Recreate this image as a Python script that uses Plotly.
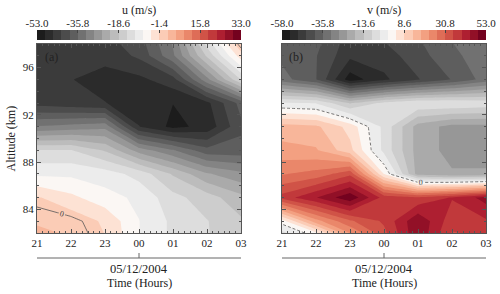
import plotly.graph_objects as go

# ---------------- data ----------------
hours = ["21", "22", "23", "00", "01", "02", "03"]
time_idx = [0, 1, 2, 3, 4, 5, 6]
altitudes = [82, 83, 85, 87, 89, 91, 93, 95, 97, 98]

# zonal wind u (m/s), rows = altitudes, columns = hours
u_rows = [
    [3.0, 1.5, -1.5, -8.2, -12.5, -15.0, -17.0],
    [1.5, 1.0, -2.0, -8.2, -12.5, -15.0, -18.0],
    [-1.0, -4.0, -7.0, -9.0, -14.0, -17.0, -21.0],
    [-9.0, -9.0, -10.0, -13.0, -19.0, -25.0, -28.0],
    [-15.0, -15.0, -19.0, -27.0, -32.0, -38.0, -38.0],
    [-32.0, -31.0, -30.0, -46.0, -50.5, -48.5, -40.0],
    [-44.0, -45.0, -46.0, -48.0, -49.5, -47.0, -38.0],
    [-45.0, -46.0, -47.5, -47.0, -44.0, -30.0, -15.0],
    [-43.0, -43.0, -45.0, -42.0, -33.0, -18.0, -3.0],
    [-43.0, -43.0, -44.0, -41.0, -32.0, -14.0, 1.5],
]

# meridional wind v (m/s)
v_rows = [
    [-6.0, 3.0, 22.0, 34.0, 48.0, 35.0, 36.0],
    [2.0, 20.0, 30.0, 36.0, 48.0, 37.0, 39.0],
    [37.0, 44.0, 52.0, 38.0, 36.0, 40.0, 46.0],
    [26.0, 28.0, 34.0, 4.0, -20.0, -22.0, -22.0],
    [19.0, 18.0, 10.0, -6.0, -20.0, -24.0, -24.0],
    [15.0, 14.0, 7.0, -6.0, -20.0, -24.0, -24.0],
    [-4.0, -5.0, -14.0, -8.0, -5.0, -5.0, -6.0],
    [-34.0, -40.0, -56.0, -50.0, -45.0, -40.0, -34.0],
    [-37.0, -40.0, -48.0, -47.0, -42.0, -37.0, -33.0],
    [-37.0, -39.0, -47.0, -45.0, -41.0, -36.0, -32.0],
]

u_start, u_end, u_step = -53.0, 33.0, 3.44
v_start, v_end, v_step = -58.0, 53.0, 4.44
u_ticks = [-53.0, -35.8, -18.6, -1.4, 15.8, 33.0]
v_ticks = [-58.0, -35.8, -13.6, 8.6, 30.8, 53.0]
alt_ticks = [84, 88, 92, 96]

# ---------------- style ----------------
palette = [
    "#1c1c1c", "#2b2b2b", "#3b3b3b", "#4c4c4c", "#5e5e5e", "#717171",
    "#848484", "#979797", "#aaaaaa", "#bcbcbc", "#cdcdcd", "#dddddd",
    "#ececec", "#fbf7f4", "#fde2d4", "#fbccb6", "#f8b69a", "#f3a081",
    "#ea876a", "#de6d57", "#d05347", "#c1393b", "#ae1f31", "#921027",
    "#74021f",
]
FONT = "Liberation Serif"
W, H = 500, 294


def contour_scale(cols):
    n = len(cols)
    m = n + 1
    sc = []
    for k, c in enumerate(cols):
        lo = 0.0 if k == 0 else (k + 0.5) / m
        hi = 1.0 if k == n - 1 else (k + 1.5) / m
        sc += [[lo, c], [hi, c]]
    return sc


def bar_scale(cols):
    n = len(cols)
    sc = []
    for k, c in enumerate(cols):
        sc += [[k / n, c], [(k + 1) / n, c]]
    return sc


def py(px):
    return 1 - px / H


def px_(x):
    return x / W


panels = [
    dict(z=u_rows, start=u_start, end=u_end, step=u_step, ticks=u_ticks,
         title="u (m/s)", label="(a)", dash="solid",
         xd=[px_(37), px_(241)], ax="", cbax="3"),
    dict(z=v_rows, start=v_start, end=v_end, step=v_step, ticks=v_ticks,
         title="v (m/s)", label="(b)", dash="3px,2px",
         xd=[px_(282), px_(486)], ax="2", cbax="4"),
]

fig = go.Figure()
plot_dom = [py(233), py(44)]
cb_dom = [py(40), py(30)]

annotations = []
shapes = []

for i, p in enumerate(panels):
    xa = "x" + p["ax"]
    ya = "y" + p["ax"]
    nb = len(palette)
    fig.add_trace(go.Contour(
        x=time_idx, y=altitudes, z=p["z"], xaxis=xa, yaxis=ya,
        autocontour=False,
        contours=dict(start=p["start"], end=p["end"], size=p["step"],
                      coloring="fill", showlines=False),
        colorscale=contour_scale(palette), showscale=False,
        line=dict(width=0, smoothing=0), hoverinfo="skip"))
    fig.add_trace(go.Contour(
        x=time_idx, y=altitudes, z=p["z"], xaxis=xa, yaxis=ya,
        autocontour=False,
        contours=dict(start=0, end=0, size=1, coloring="none",
                      showlabels=True,
                      labelfont=dict(family=FONT, size=8, color="#444")),
        line=dict(color="#555", width=0.8, smoothing=0, dash=p["dash"]),
        showscale=False, hoverinfo="skip"))
    # colour bar drawn as a heat strip of the level bands
    edges = [p["start"] + k * p["step"] for k in range(nb + 1)]
    fig.add_trace(go.Heatmap(
        x=edges, y=[0, 1], z=[list(range(nb))],
        xaxis="x" + p["cbax"], yaxis="y" + p["cbax"],
        colorscale=bar_scale(palette), zmin=-0.5, zmax=nb - 0.5,
        showscale=False, hoverinfo="skip"))

    axis_common = dict(showline=True, linecolor="#555", linewidth=1,
                       mirror="ticks", ticks="inside", tickcolor="#555",
                       ticklen=4, showgrid=False, zeroline=False,
                       automargin=False,
                       tickfont=dict(family=FONT, size=11, color="#222"))
    fig.update_layout(**{
        ("xaxis" + p["ax"]): dict(
            domain=p["xd"], range=[time_idx[0], time_idx[-1]],
            anchor=ya, tickvals=time_idx, ticktext=hours,
            minor=dict(ticks="inside", ticklen=2, dtick=1 / 6, tick0=0,
                       tickcolor="#555", showgrid=False),
            **axis_common),
        ("yaxis" + p["ax"]): dict(
            domain=plot_dom, range=[82, 98], anchor=xa,
            tickvals=alt_ticks, showticklabels=(i == 0),
            minor=dict(ticks="inside", ticklen=2, dtick=1, tick0=82,
                       tickcolor="#555", showgrid=False),
            **axis_common),
        ("xaxis" + p["cbax"]): dict(
            domain=p["xd"], range=[p["start"], p["end"]],
            anchor="y" + p["cbax"], side="top",
            tickvals=p["ticks"], ticktext=["%.1f" % t for t in p["ticks"]],
            ticks="inside", ticklen=3, tickcolor="#444", showline=False,
            showgrid=False, zeroline=False, automargin=False,
            tickfont=dict(family=FONT, size=11, color="#222")),
        ("yaxis" + p["cbax"]): dict(
            domain=cb_dom, range=[0, 1], anchor="x" + p["cbax"],
            visible=False, automargin=False),
    })

    cx = (p["xd"][0] + p["xd"][1]) / 2
    txt = dict(showarrow=False, xanchor="center", yanchor="middle")
    annotations.append(dict(text=p["title"], x=cx, y=py(10), xref="paper",
                            yref="paper", **txt,
                            font=dict(family=FONT, size=12, color="#222")))
    annotations.append(dict(text=p["label"], x=time_idx[0], y=py(57),
                            xref=xa, yref="paper", xshift=14,
                            **txt,
                            font=dict(family=FONT, size=12, color="#222")))
    annotations.append(dict(text="05/12/2004", x=time_idx[3], y=py(269),
                            xref=xa, yref="paper", **txt,
                            font=dict(family=FONT, size=12.5, color="#222")))
    annotations.append(dict(text="Time (Hours)", x=time_idx[3], y=py(283),
                            xref=xa, yref="paper", **txt,
                            font=dict(family=FONT, size=12, color="#222")))
    shapes.append(dict(type="line", xref=xa, yref="paper",
                       x0=time_idx[0], x1=time_idx[-1], y0=py(258), y1=py(258),
                       line=dict(color="#666", width=1)))
    shapes.append(dict(type="line", xref=xa, yref="paper",
                       x0=time_idx[3], x1=time_idx[3], y0=py(258), y1=py(253),
                       line=dict(color="#666", width=1)))

annotations.append(dict(text="Altitude (km)", x=px_(11), y=(plot_dom[0] + plot_dom[1]) / 2,
                        xref="paper", yref="paper", textangle=-90,
                        showarrow=False, xanchor="center", yanchor="middle",
                        font=dict(family=FONT, size=12, color="#222")))

fig.update_layout(width=W, height=H,
                  margin=dict(l=0, r=0, t=0, b=0, pad=0, autoexpand=False),
                  paper_bgcolor="white", plot_bgcolor="white",
                  showlegend=False, annotations=annotations, shapes=shapes,
                  font=dict(family=FONT, color="#222"))

fig.write_html("out.html",
               config={"displayModeBar": False, "staticPlot": True},
               post_script="document.body.style.margin='0';"
                           "document.body.style.padding='0';"
                           "document.body.style.overflow='hidden';")
